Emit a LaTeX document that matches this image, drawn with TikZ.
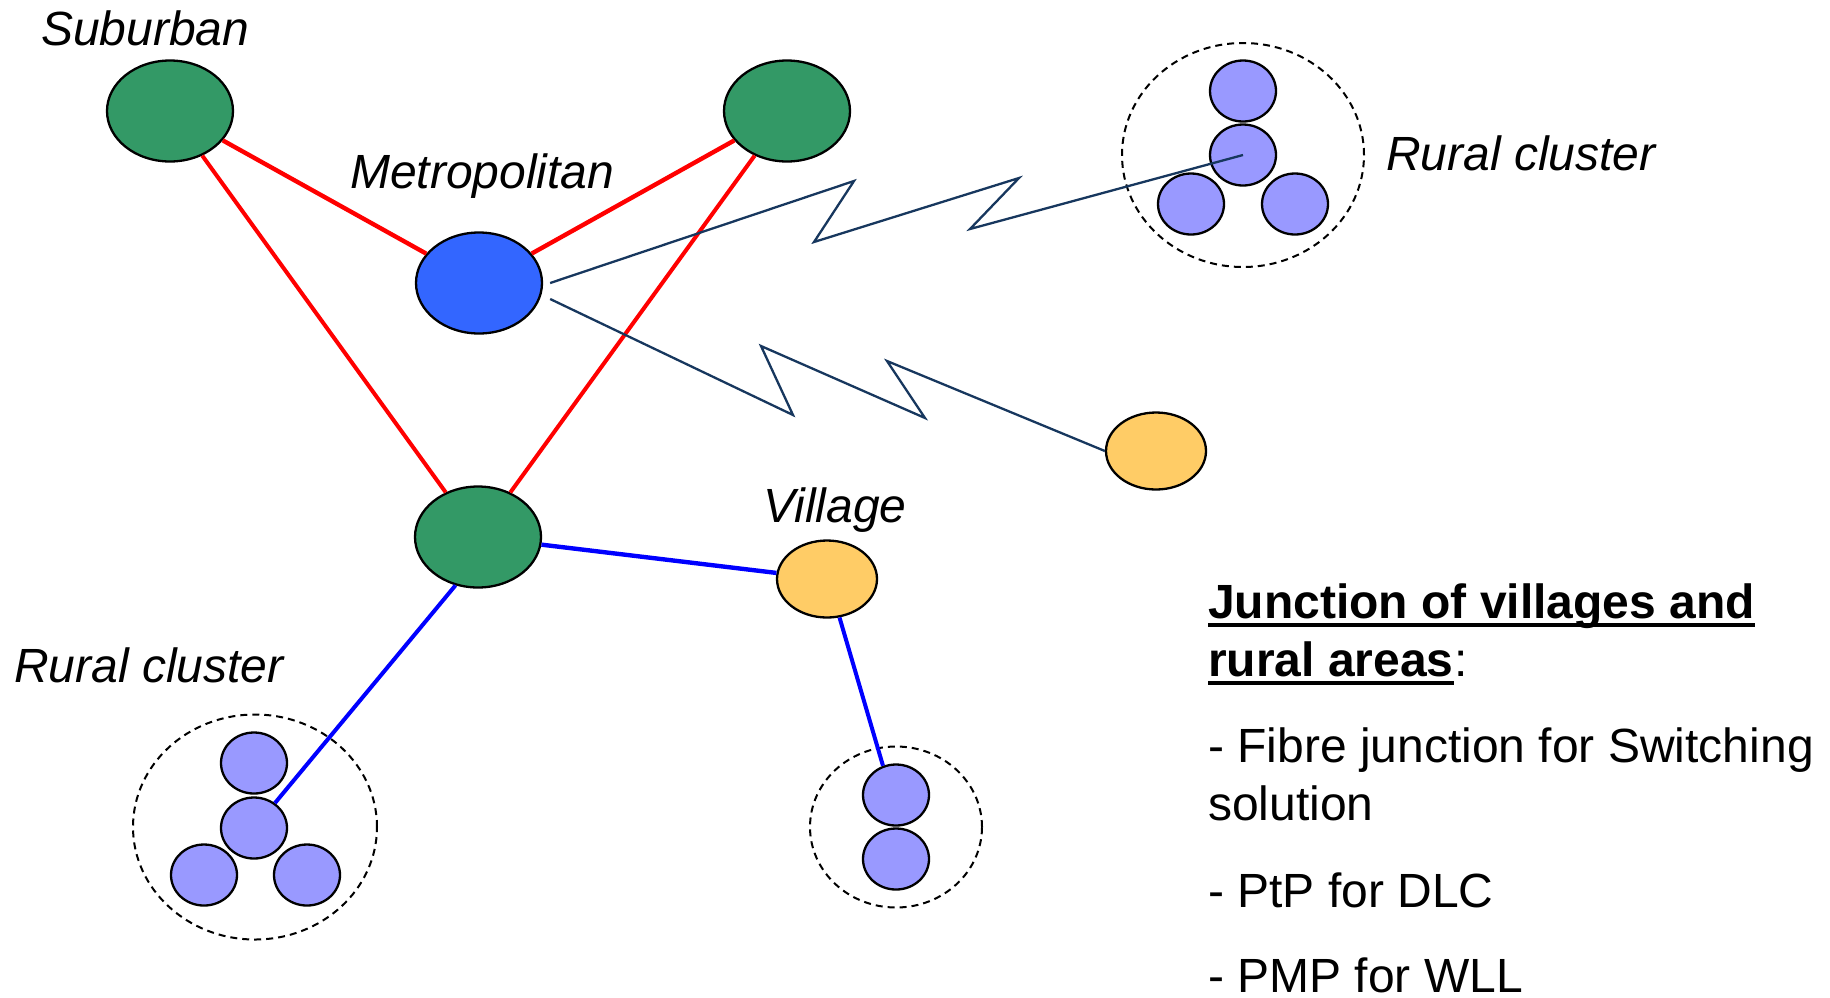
\documentclass[tikz,border=0pt]{standalone}
\usepackage{fontspec}
\setmainfont{Liberation Sans}
\usetikzlibrary{shapes.geometric}
\definecolor{sgreen}{HTML}{339966}
\definecolor{mblue}{HTML}{3366FF}
\definecolor{vyell}{HTML}{FFCC66}
\definecolor{lav}{HTML}{9999FF}
\definecolor{boltc}{HTML}{17375E}
\definecolor{fred}{HTML}{FF0000}
\definecolor{fblue}{HTML}{0000FF}
\begin{document}
\begin{tikzpicture}[x=1pt,y=-1pt,
  city/.style={ellipse,draw=black,line width=2.3pt,inner sep=0pt,minimum width=126pt,minimum height=101pt},
  vil/.style={ellipse,draw=black,line width=2.3pt,inner sep=0pt,minimum width=100pt,minimum height=77pt,fill=vyell},
  hut/.style={ellipse,draw=black,line width=2.3pt,inner sep=0pt,minimum width=66pt,minimum height=61pt,fill=lav},
  grp/.style={ellipse,draw=black,line width=2pt,dash pattern=on 7pt off 5pt,inner sep=0pt},
  lbl/.style={inner sep=0pt,anchor=base west,font=\fontsize{48}{58}\selectfont\itshape},
  txt/.style={inner sep=0pt,anchor=base west,font=\fontsize{48}{58}\selectfont},
  redthick/.style={draw=fred,line width=4.4pt},
  redthin/.style={draw=fred,line width=4pt},
  bluethick/.style={draw=fblue,line width=4.4pt},
  bluethin/.style={draw=fblue,line width=4pt},
  bolt/.style={draw=boltc,line width=2.3pt,line join=miter}
]
\useasboundingbox (0,0) rectangle (1830,997);

% cluster outlines
\node[grp,minimum width=242pt,minimum height=224pt] (rcd) at (1243,155) {};
\node[grp,minimum width=244pt,minimum height=225pt] (lcd) at (255,827) {};
\node[grp,minimum width=172pt,minimum height=161pt] (scd) at (896,827) {};

% main nodes
\node[city,fill=sgreen] (sub) at (170,111) {};
\node[city,fill=sgreen] (tr) at (787,111) {};
\node[city,fill=mblue] (metro) at (479,283) {};
\node[city,fill=sgreen] (junc) at (478,537) {};
\node[vil] (vil) at (827,579) {};
\node[vil] (ry) at (1156,451) {};

% right rural cluster
\node[hut] (rc1) at (1243,91) {};
\node[hut] (rc2) at (1243,155) {};
\node[hut] (rc3) at (1191,204) {};
\node[hut] (rc4) at (1295,204) {};

% left rural cluster
\node[hut] (lc1) at (254,763) {};
\node[hut] (lc2) at (254,828) {};
\node[hut] (lc3) at (204,875) {};
\node[hut] (lc4) at (307,875) {};

% small cluster
\node[hut] (sc1) at (896,795) {};
\node[hut] (sc2) at (896,859) {};

% red links
\draw[redthick] (sub) -- (metro);
\draw[redthick] (tr) -- (metro);
\draw[redthin] (sub) -- (junc);
\draw[redthin] (tr) -- (junc);

% blue links
\draw[bluethick] (junc) -- (vil);
\draw[bluethin] (junc.245) -- (lc2.50);
\draw[bluethin] (vil.288) -- (sc1.114);

% radio links
\draw[bolt] ([xshift=7pt]metro.east) -- (854,181) -- (814,242) -- (1019,178) -- (970,229) -- (rc2.center);
\draw[bolt] ([xshift=7pt,yshift=-16pt]metro.east) -- (793,415) -- (761,346) -- (925,418) -- (887,361) -- (ry.west);

% labels
\node[lbl] (lsub) at (41,45) {Suburban};
\node[lbl] (lmet) at (350,188) {Metropolitan};
\node[lbl] (lrr) at (1386,170) {Rural cluster};
\node[lbl] (lvil) at (763,522) {Village};
\node[lbl] (lrl) at (14,682) {Rural cluster};

% text block
\node[txt,font=\fontsize{48}{58}\selectfont\bfseries] (t1) at (1208,618) {Junction of villages and};
\node[txt,font=\fontsize{48}{58}\selectfont\bfseries] (t2) at (1208,676) {rural areas};
\node[txt] (t2c) at (t2.base east) {:};
\draw[line width=4.5pt] ([yshift=-7pt]t1.base west) -- ([yshift=-7pt]t1.base east);
\draw[line width=4.5pt] ([yshift=-7pt]t2.base west) -- ([yshift=-7pt]t2.base east);
\node[txt] (t3) at (1208,762) {- Fibre junction for Switching};
\node[txt] (t4) at (1208,820) {solution};
\node[txt] (t5) at (1208,907) {- PtP for DLC};
\node[txt] (t6) at (1208,992) {- PMP for WLL};
\end{tikzpicture}
\end{document}
